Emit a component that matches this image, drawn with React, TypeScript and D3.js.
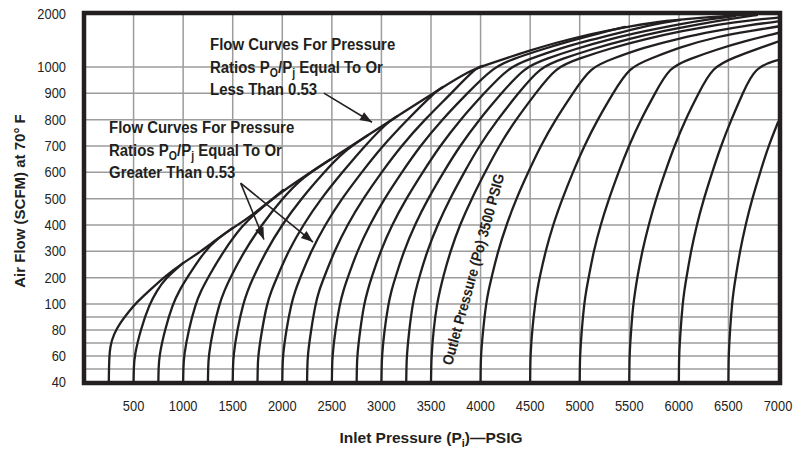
import React from "react";
import * as d3 from "d3";

const INK = "#231f20";
const GRID = "#9c9c9c";
const FONT = "'Liberation Sans', Arial, Helvetica, sans-serif";

// axis ticks
const xTicks = [500, 1000, 1500, 2000, 2500, 3000, 3500, 4000, 4500, 5000, 5500, 6000, 6500, 7000];
const xGrid = [500, 1000, 1500, 2000, 2500, 3000, 3500, 4000, 4500, 5000, 5500, 6000, 6500];
const yTicks = [2000, 1000, 900, 800, 700, 600, 500, 400, 300, 200, 100, 80, 60, 40];
const yGrid = [50, 60, 70, 80, 90, 100, 200, 300, 400, 500, 600, 700, 800, 900, 1000];

// [inlet psig, scfm]
// critical-flow envelope (starts as the 250 psig outlet curve)
const envelope: [number, number][] = [
  [250, 40], [252, 50], [255, 58], [262, 67], [300, 77], [370, 86], [450, 94], [530, 106], [665, 153], [830, 210],
  [1000, 256], [1170, 297], [1330, 343], [1500, 389], [1675, 430], [2010, 533], [2480, 648],
  [2860, 740], [3160, 813], [3620, 924], [3890, 985], [4025, 1019], [4500, 1320], [5000, 1585],
  [5580, 1793], [5840, 1868], [6310, 1944], [6790, 2000],
];

const po500: [number, number][] = [[500, 40], [502, 50], [508, 60], [570, 80], [660, 100], [735, 150], [815, 195], [1000, 256]];
const po750: [number, number][] = [[750, 40], [752, 50], [758, 60], [815, 80], [895, 100], [960, 150], [1040, 200], [1215, 300], [1330, 343], [1500, 389]];
const po1000: [number, number][] = [[1000, 40], [1002, 50], [1007, 60], [1055, 80], [1125, 100], [1180, 150], [1250, 200], [1405, 300], [1600, 400], [1750, 452], [2010, 533]];
const po1250: [number, number][] = [[1250, 40], [1252, 50], [1256, 60], [1300, 80], [1365, 100], [1415, 150], [1475, 200], [1615, 300], [1790, 400], [2000, 500], [2200, 580], [2480, 648]];
const po1500: [number, number][] = [[1500, 40], [1502, 50], [1506, 60], [1545, 80], [1605, 100], [1650, 150], [1705, 200], [1835, 300], [1995, 400], [2190, 500], [2420, 600], [2620, 680], [2860, 740]];
const po1750: [number, number][] = [[1750, 40], [1752, 50], [1755, 60], [1795, 80], [1845, 100], [1890, 150], [1945, 200], [2060, 300], [2210, 400], [2390, 500], [2605, 600], [2830, 700], [3060, 790], [3160, 813]];
const po2000: [number, number][] = [[2000, 40], [2002, 50], [2005, 60], [2040, 80], [2090, 100], [2130, 150], [2180, 200], [2290, 300], [2430, 400], [2600, 500], [2800, 600], [3010, 700], [3260, 800], [3540, 905], [3620, 924]];
const po2250: [number, number][] = [[2250, 40], [2252, 50], [2255, 60], [2290, 80], [2335, 100], [2370, 150], [2420, 200], [2525, 300], [2655, 400], [2815, 500], [3000, 600], [3200, 700], [3435, 800], [3705, 900], [3960, 1000], [4025, 1019]];
const po2500: [number, number][] = [[2500, 40], [2502, 50], [2505, 60], [2535, 80], [2580, 100], [2615, 150], [2660, 200], [2755, 300], [2880, 400], [3030, 500], [3205, 600], [3390, 700], [3610, 800], [3865, 900], [4130, 1000], [4327, 1151], [4599, 1321], [4902, 1491], [5205, 1642], [5457, 1755]];
const po2750: [number, number][] = [[2750, 40], [2752, 50], [2755, 60], [2785, 80], [2825, 100], [2860, 150], [2900, 200], [2990, 300], [3105, 400], [3250, 500], [3415, 600], [3590, 700], [3795, 800], [4035, 900], [4285, 1000], [4499, 1151], [4781, 1340], [5104, 1509], [5427, 1660], [5760, 1811], [6012, 1887]];
const po3000: [number, number][] = [[3000, 40], [3002, 50], [3005, 60], [3030, 80], [3070, 100], [3100, 150], [3140, 200], [3225, 300], [3335, 400], [3470, 500], [3625, 600], [3790, 700], [3985, 800], [4210, 900], [4445, 1000], [4660, 1151], [4953, 1340], [5305, 1528], [5659, 1679], [6012, 1811], [6314, 1906], [6566, 1962]];
const po3250: [number, number][] = [[3250, 40], [3252, 50], [3255, 60], [3280, 80], [3315, 100], [3345, 150], [3380, 200], [3460, 300], [3565, 400], [3690, 500], [3835, 600], [3985, 700], [4170, 800], [4380, 900], [4600, 1000], [4821, 1151], [5124, 1340], [5487, 1528], [5840, 1679], [6213, 1811], [6516, 1906], [6788, 1981]];
const po3500: [number, number][] = [[3500, 40], [3502, 50], [3505, 60], [3525, 80], [3560, 100], [3590, 150], [3620, 200], [3695, 300], [3790, 400], [3910, 500], [4045, 600], [4185, 700], [4355, 800], [4555, 900], [4760, 1000], [4983, 1151], [5285, 1340], [5659, 1528], [6032, 1679], [6415, 1811], [6738, 1887], [7000, 1930]];
const po4000: [number, number][] = [[4000, 40], [4001, 50], [4003, 60], [4025, 80], [4055, 100], [4080, 150], [4110, 200], [4175, 300], [4260, 400], [4360, 500], [4480, 600], [4605, 700], [4755, 800], [4930, 900], [5110, 1000], [5326, 1151], [5628, 1358], [6012, 1547], [6365, 1679], [6718, 1792], [7000, 1860]];
const po4500: [number, number][] = [[4500, 40], [4501, 50], [4503, 60], [4520, 80], [4550, 100], [4570, 150], [4595, 200], [4655, 300], [4730, 400], [4825, 500], [4930, 600], [5045, 700], [5180, 800], [5335, 900], [5500, 1000], [5709, 1151], [6012, 1377], [6415, 1585], [6718, 1679], [7000, 1764]];
const po5000: [number, number][] = [[5000, 40], [5001, 50], [5003, 60], [5020, 80], [5045, 100], [5065, 150], [5090, 200], [5140, 300], [5210, 400], [5295, 500], [5390, 600], [5495, 700], [5615, 800], [5760, 900], [5905, 1000], [6112, 1151], [6365, 1321], [6668, 1491], [7000, 1642]];
const po5500: [number, number][] = [[5500, 40], [5501, 50], [5502, 60], [5518, 80], [5540, 100], [5560, 150], [5580, 200], [5630, 300], [5695, 400], [5770, 500], [5860, 600], [5955, 700], [6065, 800], [6200, 900], [6335, 1000], [6566, 1189], [6788, 1340], [7000, 1479]];
const po6000: [number, number][] = [[6000, 40], [6001, 50], [6002, 60], [6017, 80], [6038, 100], [6055, 150], [6076, 200], [6122, 300], [6180, 400], [6252, 500], [6336, 600], [6424, 700], [6529, 800], [6645, 900], [6765, 1000], [7000, 1132]];
const po6500: [number, number][] = [[6500, 40], [6501, 50], [6502, 60], [6516, 80], [6536, 100], [6552, 150], [6572, 200], [6616, 300], [6672, 400], [6740, 500], [6820, 600], [6904, 700], [7000, 790]];

const curves = [envelope, po500, po750, po1000, po1250, po1500, po1750, po2000, po2250, po2500,
  po2750, po3000, po3250, po3500, po4000, po4500, po5000, po5500, po6000, po6500];

// annotation arrows: [from, to] in data units
const arrows: [[number, number], [number, number]][] = [
  [[2420, 901], [2905, 790]],
  [[1580, 559], [1815, 345]],
  [[1580, 559], [2310, 335]],
];

function arrowHead(x1: number, y1: number, x2: number, y2: number, len = 12, half = 4.5) {
  const dx = x2 - x1, dy = y2 - y1;
  const d = Math.hypot(dx, dy);
  const ux = dx / d, uy = dy / d;
  const bx = x2 - ux * len, by = y2 - uy * len;
  return `${x2},${y2} ${bx - uy * half},${by + ux * half} ${bx + uy * half},${by - ux * half}`;
}

export default function App() {
  const x = d3.scaleLinear().domain([0, 7000]).range([84, 778]);
  const y = d3.scaleLinear().domain([40, 100, 1000, 2000]).range([382, 304, 67, 14]);
  // B-spline smooths the hand-drawn look across the scale breaks
  const line = d3.line<[number, number]>()
    .x((d) => x(d[0]))
    .y((d) => y(d[1]))
    .curve(d3.curveBasis);

  const cond = (tx: number, ty: number, sx: number) => `translate(${tx},${ty}) scale(${sx},1)`;

  return (
    <svg width={810} height={452} style={{ position: "absolute", left: 0, top: 0 }} fontFamily={FONT}>
      <rect width={810} height={452} fill="#fff" />
      <defs>
        <clipPath id="plot">
          <rect x={x(0)} y={y(2000)} width={x(7000) - x(0)} height={y(40) - y(2000)} />
        </clipPath>
      </defs>

      {/* grid */}
      <g stroke={GRID} strokeWidth={1.5}>
        {xGrid.map((v) => (
          <line key={"gx" + v} x1={x(v)} x2={x(v)} y1={y(2000)} y2={y(40)} />
        ))}
        {yGrid.map((v) => (
          <line key={"gy" + v} x1={x(0)} x2={x(7000)} y1={y(v)} y2={y(v)} />
        ))}
      </g>

      {/* flow curves */}
      <g clipPath="url(#plot)" fill="none" stroke={INK} strokeWidth={2.3} strokeLinejoin="round" strokeLinecap="round">
        {curves.map((c, i) => (
          <path key={i} d={line(c) || ""} />
        ))}
      </g>

      {/* frame */}
      <rect x={84} y={13} width={696} height={370} fill="none" stroke={INK} strokeWidth={4.5} />

      {/* y ticks */}
      <g fill={INK} fontSize={14} textAnchor="end">
        {yTicks.map((v) => (
          <text key={"yt" + v} transform={cond(66, y(v) + 5, 0.92)}>{v}</text>
        ))}
      </g>
      {/* x ticks */}
      <g fill={INK} fontSize={14} textAnchor="middle">
        {xTicks.map((v) => (
          <text key={"xt" + v} transform={cond(x(v), 411, 0.92)}>{v}</text>
        ))}
      </g>

      {/* axis titles */}
      <text transform="translate(25,201) rotate(-90)" textAnchor="middle" fontSize={15} fontWeight="bold" fill={INK}>
        Air Flow (SCFM) at 70° F
      </text>
      <text x={431} y={443} textAnchor="middle" fontSize={15.5} fontWeight="bold" fill={INK}>
        <tspan>Inlet Pressure (P</tspan>
        <tspan fontSize={11} dy={4}>i</tspan>
        <tspan dy={-4}>{")\u2014PSIG"}</tspan>
      </text>

      {/* annotations */}
      <g fill={INK} fontSize={17} fontWeight="bold">
        <text transform={cond(210, 50, 0.88)}>Flow Curves For Pressure</text>
        <text transform={cond(210, 73, 0.88)}>
          <tspan>Ratios P</tspan>
          <tspan fontSize={12} dy={4}>O</tspan>
          <tspan dy={-4}>/P</tspan>
          <tspan fontSize={12} dy={4}>j</tspan>
          <tspan dy={-4}>{" Equal To Or"}</tspan>
        </text>
        <text transform={cond(210, 95, 0.88)}>Less Than 0.53</text>

        <text transform={cond(109, 133, 0.88)}>Flow Curves For Pressure</text>
        <text transform={cond(109, 156, 0.88)}>
          <tspan>Ratios P</tspan>
          <tspan fontSize={12} dy={4}>O</tspan>
          <tspan dy={-4}>/P</tspan>
          <tspan fontSize={12} dy={4}>j</tspan>
          <tspan dy={-4}>{" Equal To Or"}</tspan>
        </text>
        <text transform={cond(109, 178, 0.88)}>Greater Than 0.53</text>
      </g>

      <text transform={`translate(452,366) rotate(-74.6) scale(0.89,1)`} fontSize={15} fontWeight="bold" fill={INK}>
        Outlet Pressure (Po) 3500 PSIG
      </text>

      {arrows.map(([a, b], i) => {
        const x1 = x(a[0]), y1 = y(a[1]), x2 = x(b[0]), y2 = y(b[1]);
        return (
          <g key={"ar" + i}>
            <line x1={x1} y1={y1} x2={x2} y2={y2} stroke={INK} strokeWidth={1.6} />
            <polygon points={arrowHead(x1, y1, x2, y2)} fill={INK} />
          </g>
        );
      })}
    </svg>
  );
}
